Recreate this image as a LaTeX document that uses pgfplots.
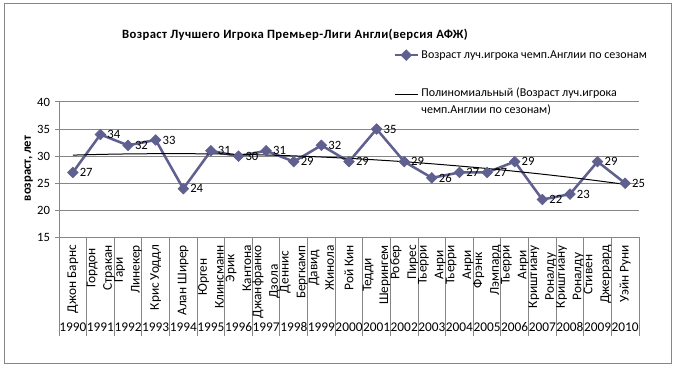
\documentclass[border=0pt]{standalone}
\usepackage{pgfplots}
\pgfplotsset{compat=1.18}
\usepackage{fontspec}
\setmainfont{Carlito}
\newfontfamily\titlefont[LetterSpace=3]{Carlito}
\definecolor{ser}{RGB}{96,96,144}
\definecolor{gridc}{RGB}{134,134,134}
\begin{document}
\begin{tikzpicture}
\path[use as bounding box] (0,0) rectangle (507.75pt,277.5pt);
\draw[gridc, line width=0.75pt] (3pt,4.5pt) rectangle (503.25pt,274.5pt);
\node[font=\titlefont\bfseries\fontsize{9.5}{11}\selectfont] at (221.25pt,251.5pt) {Возраст Лучшего Игрока Премьер-Лиги Англи(версия АФЖ)};
\node[rotate=90,font=\bfseries\fontsize{9.5}{11}\selectfont] at (21.5pt,151.125pt) {возраст, лет};
\begin{axis}[
  at={(44.25pt,99.375pt)}, anchor=south west,
  width=435pt, height=101.625pt, scale only axis,
  xmin=-0.5, xmax=20.5, ymin=15, ymax=40,
  ytick={15,20,...,40},
  axis x line*=bottom, axis y line*=left,
  axis line style={gridc, line width=0.75pt, -},
  ymajorgrids, grid style={gridc, line width=0.75pt},
  tick align=outside,
  major tick length=3pt,
  minor tick length=73.5pt,
  tick style={gridc, line width=0.75pt},
  major x tick style={draw=none},
  xtick={0,...,20},
  xticklabels={{Джон Барнс},{Гордон\\Стракан},{Гари\\Линекер},{Крис Уоддл},{Алан Ширер},{Юрген\\Клинсманн},{Эрик\\Кантона},{Джанфранко\\Дзола},{Деннис\\Бергкамп},{Давид\\Жинола},{Рой Кин},{Тедди\\Шерингем},{Робер\\Пирес},{Тьерри\\Анри},{Тьерри\\Анри},{Фрэнк\\Лэмпард},{Тьерри\\Анри},{Криштиану\\Роналду},{Криштиану\\Роналду},{Стивен\\Джеррард},{Уэйн Руни}},
  x tick label style={yshift=-2.5pt, rotate=90, anchor=east, align=center, font=\fontsize{10}{12.5}\selectfont, inner sep=0pt},
  minor xtick={-0.5,0.5,...,20.5},
  y tick label style={font=\fontsize{9.5}{11}\selectfont, inner sep=0pt, xshift=-3.5pt},
  /pgf/number format/assume math mode=true,
  clip=false,
  legend style={at={(0.574,1.413)}, anchor=north west, draw=none, fill=none,
    font=\fontsize{9}{12.75}\selectfont, cells={anchor=west, align=left}, row sep=16.5pt, inner sep=1pt},
  legend cell align=left,
]
\addplot[ser, line width=1.9pt, mark=square*, mark size=2.8pt, mark options={solid, rotate=45, fill=ser, draw=ser, line width=0.5pt},
  nodes near coords, every node near coord/.append style={anchor=west, xshift=5pt, text=black, font=\fontsize{9.5}{11}\selectfont, inner sep=0pt}]
coordinates {(0,27)(1,34)(2,32)(3,33)(4,24)(5,31)(6,30)(7,31)(8,29)(9,32)(10,29)(11,35)(12,29)(13,26)(14,27)(15,27)(16,29)(17,22)(18,23)(19,29)(20,25)};
\addlegendentry{Возраст луч.игрока чемп.Англии по сезонам}
\addplot[black, line width=0.75pt, no marks, smooth,
  legend image code/.code={\draw[black, line width=0.75pt] (0cm,0.18cm) -- (0.6cm,0.18cm); \path (0cm,-0.18cm);}]
coordinates {(0,30.20)(1,30.33)(2,30.42)(3,30.46)(4,30.46)(5,30.43)(6,30.34)(7,30.22)(8,30.06)(9,29.85)(10,29.60)(11,29.31)(12,28.98)(13,28.60)(14,28.18)(15,27.73)(16,27.22)(17,26.68)(18,26.10)(19,25.47)(20,24.80)};
\addlegendentry{Полиномиальный (Возраст луч.игрока\\чемп.Англии по сезонам)}
\end{axis}
\begin{axis}[
  at={(44.25pt,99.375pt)}, anchor=south west,
  width=435pt, height=101.625pt, scale only axis,
  xmin=-0.5, xmax=20.5, ymin=15, ymax=40,
  axis x line*=bottom, axis y line=none,
  axis line style={draw=none},
  ytick=\empty,
  xtick={0,...,20},
  major tick length=0pt,
  tick style={draw=none},
  xticklabels={1990,1991,1992,1993,1994,1995,1996,1997,1998,1999,2000,2001,2002,2003,2004,2005,2006,2007,2008,2009,2010},
  x tick label style={anchor=center, yshift=-67pt, font=\fontsize{10}{12}\selectfont, inner sep=0pt},
]
\end{axis}
\end{tikzpicture}
\end{document}
